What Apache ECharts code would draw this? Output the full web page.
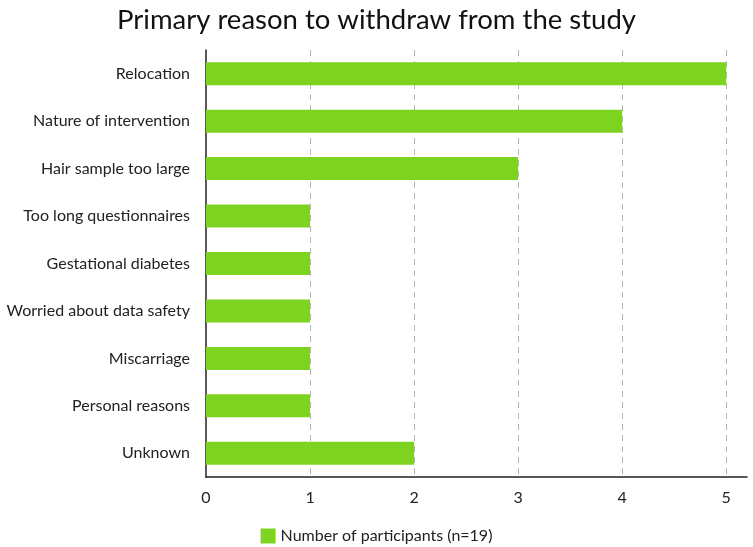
<!DOCTYPE html>
<html>
<head>
<meta charset="utf-8">
<script src="https://cdn.jsdelivr.net/npm/echarts@6/dist/echarts.min.js"></script>
<style>
  html, body { margin: 0; padding: 0; background: #fff; }
  #main { width: 753px; height: 547px; }
</style>
</head>
<body>
<div id="main"></div>
<script>
// 类别（从上到下）
var reasons = [
    'Relocation',
    'Nature of intervention',
    'Hair sample too large',
    'Too long questionnaires',
    'Gestational diabetes',
    'Worried about data safety',
    'Miscarriage',
    'Personal reasons',
    'Unknown'
];
// 人数
var participants = [5, 4, 3, 1, 1, 1, 1, 1, 2];
var seriesName = 'Number of participants (n=19)';

var myChart = echarts.init(document.getElementById('main'));

var option = {
    textStyle: { fontFamily: 'Lato' },
    title: {
        text: 'Primary reason to withdraw from the study',
        left: 'center',
        top: 1,
        textStyle: { fontFamily: 'Lato', fontSize: 27.5, fontWeight: 'normal', color: '#111' }
    },
    legend: {
        data: [seriesName],
        bottom: 3,
        left: 'center',
        padding: 0,
        icon: 'rect',
        itemWidth: 15,
        itemHeight: 15,
        itemGap: 10,
        textStyle: { fontFamily: 'Lato', fontSize: 16, color: '#222' }
    },
    grid: { left: 206, right: 6, top: 50, bottom: 70, containLabel: false },
    xAxis: {
        type: 'value',
        min: 0,
        max: 5.2,
        interval: 1,
        axisLine: { show: true, lineStyle: { color: '#222', width: 1.5 } },
        axisTick: { show: false },
        axisLabel: {
            showMaxLabel: false,
            fontSize: 16, color: '#222', margin: 13,
            formatter: function (v) { return v % 1 === 0 ? String(v) : ''; }
        },
        splitLine: {
            show: true,
            showMinLine: false,
            showMaxLine: false,
            lineStyle: { type: [6, 5], color: '#b5b5b5', width: 1 }
        }
    },
    yAxis: {
        type: 'category',
        data: reasons,
        inverse: true,
        axisLine: { show: true, lineStyle: { color: '#222', width: 1.5 } },
        axisTick: { show: false },
        axisLabel: { fontSize: 16, color: '#222', margin: 16 }
    },
    series: [{
        name: seriesName,
        type: 'bar',
        data: participants,
        barWidth: 23,
        itemStyle: { color: '#7ed321' }
    }]
};

myChart.setOption(option);
</script>
</body>
</html>
